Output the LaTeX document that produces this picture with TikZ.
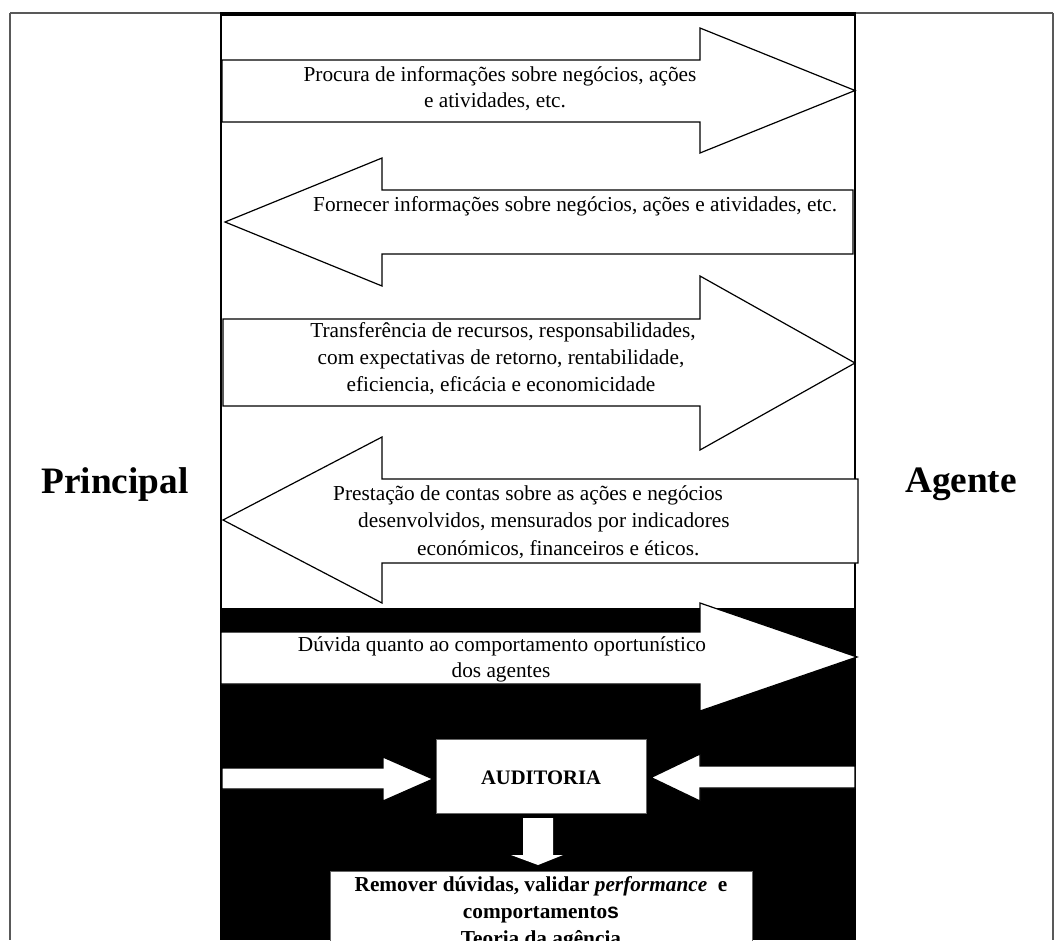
\documentclass[tikz,border=0pt]{standalone}
\usepackage{fontspec}
\setmainfont{Liberation Serif}
\newfontfamily\arialfont{Liberation Sans}
\newcommand{\blockarrow}[8]{% name, x-tail, x-base, x-tip, shaft top, shaft bottom, head top, head bottom
  \path[barrow] (#2,#5) -- (#3,#5) -- (#3,#7) -- (#4,{(#7+#8)/2}) coordinate (#1-tip) -- (#3,#8) -- (#3,#6) -- (#2,#6) -- cycle;}
\begin{document}
\begin{tikzpicture}[x=1pt,y=-1pt,
  barrow/.style={draw=black, fill=white, line width=1.2pt, line join=miter},
  colline/.style={draw=black, line width=1.5pt},
  frameline/.style={draw=black!65, line width=1.3pt},
  txt/.style={font=\fontsize{21.3}{27}\selectfont, inner sep=0pt, anchor=base},
  txtw/.style={txt, anchor=base west},
  btxt/.style={font=\fontsize{21.3}{27}\selectfont\bfseries, inner sep=0pt, anchor=base},
  party/.style={font=\fontsize{37.3}{40}\selectfont\bfseries, inner sep=0pt, anchor=base},
  boxnode/.style={draw=black!60, fill=white, line width=1pt, inner sep=0pt}]
\useasboundingbox (0,0) rectangle (1055,940);

% black lower band
\fill[black] (221,608) rectangle (856,940);

% frame and column lines
\path[frameline] (10,13) -- (221,13);
\path[frameline] (855,13) -- (1053,13);
\path[frameline] (10,13) -- (10,940);
\path[frameline] (1053,13) -- (1053,940);
\path[colline] (221,13) -- (221,940);
\path[colline] (855,13) -- (855,940);
\draw[line width=3.2pt] (220,14) -- (856,14);

% block arrows (upper part)
\blockarrow{a1}{222}{700}{855}{60}{122}{28}{153}
\blockarrow{a2}{853}{382}{225}{190}{254}{158}{286}
\blockarrow{a3}{223}{700}{855}{319}{406}{276}{450}
\blockarrow{a4}{858}{382}{223}{479}{563}{437}{603}
\blockarrow{a5}{221}{700}{857}{632}{684}{603}{711}

% texts of arrows
\node[txt] (t1a) at (500,81) {Procura de informações sobre negócios, ações};
\node[txt] (t1b) at (495,107) {e atividades, etc.};
\node[txtw] (t2) at (313,211) {Fornecer informações sobre negócios, ações e atividades, etc.};
\node[txt] (t3a) at (503,337) {Transferência de recursos, responsabilidades,};
\node[txt] (t3b) at (501,364) {com expectativas de retorno, rentabilidade,};
\node[txt] (t3c) at (501,391) {eficiencia, eficácia e economicidade};
\node[txtw] (t4a) at (333,500) {Prestação de contas sobre as ações e negócios};
\node[txtw] (t4b) at (358,527) {desenvolvidos, mensurados por indicadores};
\node[txtw] (t4c) at (417,555) {económicos, financeiros e éticos.};
\node[txt] (t5a) at (502,651) {Dúvida quanto ao comportamento oportunístico};
\node[txt] (t5b) at (501,677) {dos agentes};

% parties
\node[party] (principal) at (115,493) {Principal};
\node[party] (agente) at (961,492) {Agente};

% auditoria
\node[boxnode, minimum width=210pt, minimum height=74pt] (aud) at (541,776) {};
\node[btxt, font=\fontsize{20.6}{24}\selectfont\bfseries] (audt) at (541,784) {AUDITORIA};
\blockarrow{la}{222}{383}{433}{768}{789}{757}{801}
\blockarrow{ra}{855}{700}{651}{766}{788}{754}{801}
\path[barrow, draw=none] (523,818) -- (553,818) -- (553,855) -- (563,855) -- (538,865) coordinate (da-tip) -- (511,855) -- (523,855) -- cycle;

% result box
\node[boxnode, minimum width=422pt, minimum height=90pt, anchor=north] (res) at (541,871) {};
\node[btxt] (r1) at (541,891) {Remover dúvidas, validar \textit{performance}\ \ e};
\node[btxt] (r2) at (541,918) {comportamento{\arialfont s}};
\node[btxt] (r3) at (541,945) {Teoria da agência};
\end{tikzpicture}
\end{document}
